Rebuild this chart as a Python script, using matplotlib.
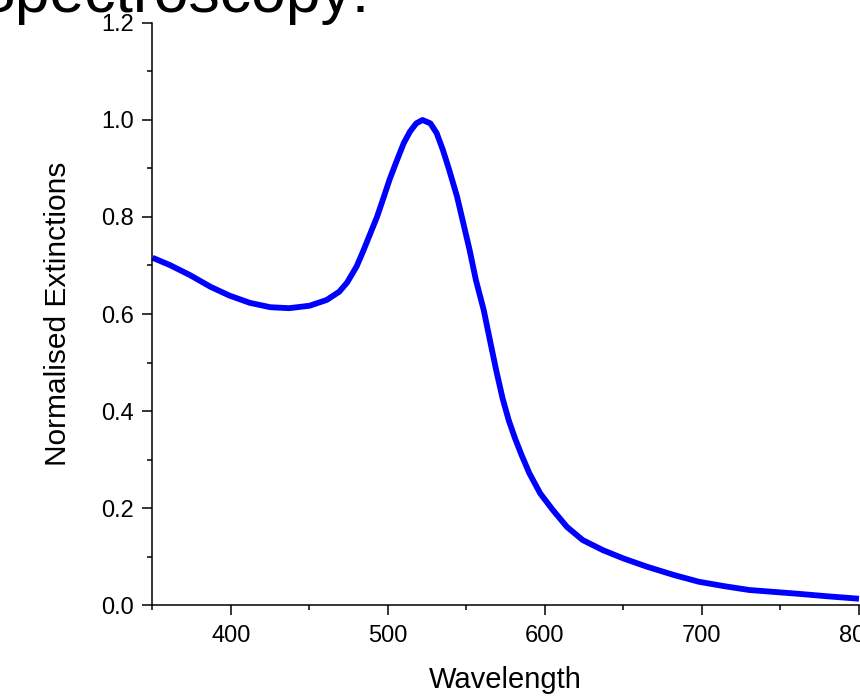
import matplotlib
matplotlib.use("Agg")
import matplotlib.pyplot as plt
from matplotlib.ticker import MultipleLocator

# ---- data -----------------------------------------------------------------
wavelength = [350, 361, 374, 387, 399, 412, 425, 437, 450, 461, 469, 474,
              480, 484, 488, 493, 497, 501, 505, 510, 514, 518, 522, 527,
              531, 535, 539, 544, 548, 552, 556, 561, 565, 569, 573, 577,
              581, 585, 590, 597, 605, 614, 624, 637, 650, 665, 682, 698,
              714, 730, 746, 762, 780, 800]
extinction = [0.716, 0.701, 0.680, 0.656, 0.638, 0.623, 0.614, 0.612, 0.617,
              0.629, 0.646, 0.665, 0.698, 0.728, 0.760, 0.800, 0.838, 0.877,
              0.911, 0.952, 0.976, 0.993, 1.000, 0.993, 0.973, 0.938, 0.897,
              0.842, 0.787, 0.732, 0.670, 0.608, 0.545, 0.483, 0.426, 0.380,
              0.343, 0.310, 0.272, 0.230, 0.196, 0.161, 0.134, 0.113, 0.096,
              0.079, 0.062, 0.048, 0.039, 0.031, 0.027, 0.023, 0.018, 0.013]
x_ticks = [400, 500, 600, 700, 800]
y_ticks = [0.0, 0.2, 0.4, 0.6, 0.8, 1.0, 1.2]

plt.rcParams["font.family"] = ["Liberation Sans", "DejaVu Sans"]

fig = plt.figure(figsize=(8.6, 6.96), dpi=100)
ax = fig.add_axes([0.1773, 0.1307, 0.8215, 0.8363])

ax.plot(wavelength, extinction, color="#0000ff", lw=4.2,
        solid_capstyle="butt", solid_joinstyle="round", clip_on=False)

ax.set_xlim(350, 800)
ax.set_ylim(0, 1.2)
ax.set_xticks(x_ticks)
ax.set_yticks(y_ticks)
ax.set_yticklabels([f"{v:.1f}" for v in y_ticks])
ax.xaxis.set_minor_locator(MultipleLocator(50))
ax.yaxis.set_minor_locator(MultipleLocator(0.1))

for s in ("top", "right"):
    ax.spines[s].set_visible(False)
for s in ("left", "bottom"):
    ax.spines[s].set_linewidth(1.1)

ax.tick_params(which="major", direction="out", length=7.2, width=1.1,
               labelsize=17, pad=6)
ax.tick_params(which="minor", direction="out", length=3.6, width=1.1)
ax.tick_params(axis="x", which="major", pad=7)

ax.set_xlabel("Wavelength", fontsize=21, labelpad=14)
ax.set_ylabel("Normalised Extinctions", fontsize=21.5, labelpad=21)

fig.text(-0.031, 1 - 12 / 696, "Spectroscopy:", fontsize=45, va="baseline",
         ha="left")

fig.savefig("out.png", dpi=100)
